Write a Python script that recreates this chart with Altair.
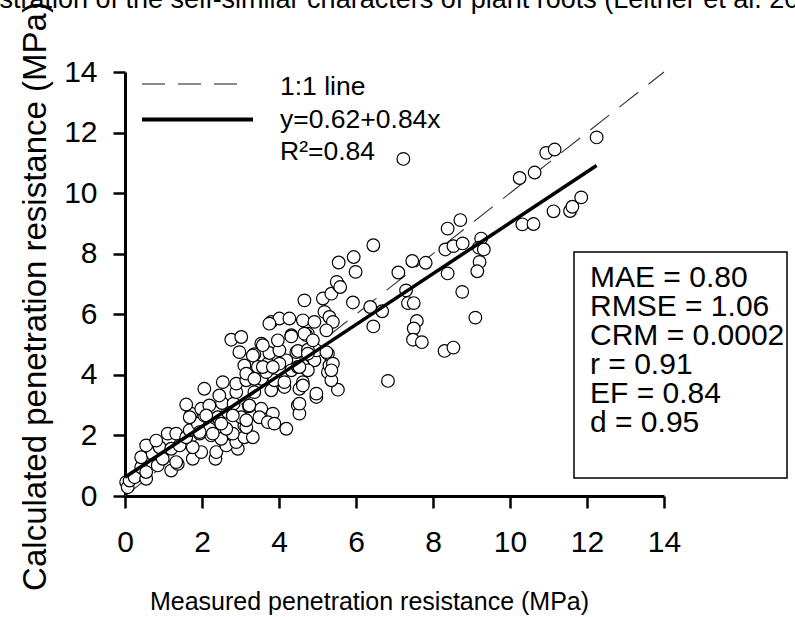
import altair as alt
import pandas as pd

# measured (x) and calculated (y) penetration resistance, MPa
meas = [0.03,0.07,0.12,0.25,0.55,0.42,0.55,0.85,1.2,1.37,0.42,0.72,0.98,1.33,1.76,1.98,2.35,2.93,
        0.55,0.9,1.2,1.42,1.76,2.37,2.63,2.89,3.1,0.81,1.11,1.33,1.59,1.94,2.24,2.5,2.8,
        1.68,1.89,2.19,2.63,3.1,1.72,2.06,2.41,2.67,3.02,3.32,1.59,1.98,2.19,2.52,2.82,3.22,
        3.32,3.15,2.28,1.68,2.11,2.5,2.8,1.94,
        3.23,3.54,3.84,4.49,4.53,3.49,3.71,3.88,4.19,3.15,2.06,2.45,2.89,3.36,3.8,
        2.54,2.89,3.15,3.54,3.88,4.14,4.53,4.97,5.53,4.53,
        3.1,3.45,3.71,4.19,4.71,5.27,5.36,3.15,3.67,4.01,4.32,4.62,4.92,5.31,
        2.97,3.36,3.75,4.01,4.45,4.97,5.27,5.4,2.76,3.02,3.54,3.97,4.32,4.75,
        3.58,4.49,4.75,3.32,3.58,3.84,3.36,4.14,4.49,4.62,4.75,
        3.8,4.01,4.27,4.62,4.92,4.32,4.71,3.75,
        4.66,5.14,5.36,5.55,5.18,5.31,5.4,4.66,4.88,5.23,4.75,5.23,5.36,4.53,4.62,4.97,
        5.5,5.59,5.55,5.94,5.99,5.92,6.37,6.68,6.45,6.45,6.83,7.1,
        7.46,7.81,7.3,7.35,7.5,7.58,7.5,7.48,7.71,8.3,8.53,8.38,8.76,9.1,
        8.38,8.71,8.32,8.53,8.77,9.25,9.19,9.32,9.21,9.15,7.23,
        10.25,10.64,10.94,11.16,12.25,10.32,10.61,11.13,11.56,11.62,11.85]
calc = [0.46,0.29,0.51,0.62,0.57,0.95,0.79,1.01,0.84,1.06,1.28,1.39,1.23,1.12,1.23,1.45,1.23,1.56,
        1.67,1.61,1.56,1.67,1.61,1.45,1.67,1.78,1.94,1.83,2.06,2.06,1.94,2.06,2.0,1.89,2.06,
        2.17,2.39,2.22,2.22,2.33,2.72,2.66,2.6,2.77,2.6,2.72,3.02,2.88,2.99,3.07,3.05,2.96,
        1.94,2.27,2.06,2.6,2.66,2.39,2.66,2.11,
        2.99,2.88,2.72,2.99,2.72,2.6,2.44,2.39,2.22,2.5,3.54,3.32,3.43,3.43,3.49,
        3.76,3.71,3.82,3.87,3.82,3.6,3.54,3.27,3.51,3.05,
        4.31,4.26,4.37,4.48,4.2,4.09,3.82,4.04,4.09,4.37,4.15,4.31,4.48,4.31,
        4.75,4.68,4.72,4.81,4.75,4.81,4.7,4.37,5.16,5.25,5.03,5.14,5.31,5.36,
        4.98,4.79,4.83,4.64,4.26,4.26,3.87,3.76,4.26,3.76,4.15,
        5.75,5.86,5.86,5.8,5.75,5.27,5.31,5.69,
        6.46,6.52,6.68,6.96,6.08,5.91,5.75,5.36,5.14,5.47,4.7,4.75,4.15,4.26,3.65,3.38,
        7.07,6.9,7.71,7.89,7.4,6.39,6.24,6.1,5.6,8.28,3.8,7.38,
        7.76,7.7,6.79,6.37,6.37,5.78,5.53,5.16,5.08,4.79,4.9,7.35,6.74,5.89,
        8.83,9.11,8.14,8.25,8.34,8.5,8.2,8.14,7.73,7.42,11.13,
        10.5,10.68,11.33,11.44,11.84,8.97,8.98,9.4,9.41,9.55,9.86]

one_x = [0, 14]
one_y = [0, 14]
reg_x = [0, 12.25]
reg_y = [0.62, 10.91]
ticks = [0, 2, 4, 6, 8, 10, 12, 14]
legend_labels = ["1:1 line", "y=0.62+0.84x", "R²=0.84"]
stats_labels = ["MAE = 0.80", "RMSE = 1.06", "CRM = 0.0002", "r = 0.91", "EF = 0.84", "d = 0.95"]
caption = "Illustration of the self-similar characters of plant roots (Leitner et al. 2010a)"

FONT = "Liberation Sans"
W, H = 539, 424

pts = pd.DataFrame({"m": meas, "c": calc})
one = pd.DataFrame({"m": one_x, "c": one_y})
reg = pd.DataFrame({"m": reg_x, "c": reg_y})

xs = alt.Scale(domain=[0, 14], nice=False, zero=False)
ys = alt.Scale(domain=[0, 14], nice=False, zero=False)

xaxis = alt.Axis(values=ticks, grid=False, domainColor="black", domainWidth=3,
                 tickColor="black", tickWidth=2.5, tickSize=12,
                 labelFont=FONT, labelFontSize=30, labelColor="black",
                 labelBaseline="alphabetic", labelPadding=43, labelFlush=False,
                 title="Measured penetration resistance (MPa)", titleFont=FONT,
                 titleFontSize=25, titleFontWeight="normal", titleColor="black",
                 titleX=244, titleY=113, titleAlign="center", titleBaseline="alphabetic")
yaxis = alt.Axis(values=ticks, grid=False, domainColor="black", domainWidth=3,
                 tickColor="black", tickWidth=2.5, tickSize=12,
                 labelFont=FONT, labelFontSize=30, labelColor="black",
                 labelPadding=16, labelBaseline="middle", labelFlush=False,
                 title="Calculated penetration resistance (MPa)", titleFont=FONT,
                 titleFontSize=33, titleFontWeight="normal", titleColor="black",
                 titleAngle=270, titleX=-90, titleY=224, titleAlign="center",
                 titleBaseline="middle")

dash = alt.Chart(one).mark_line(color="#333333", strokeWidth=1.1, strokeDash=[24, 13]).encode(
    x=alt.X("m:Q", scale=xs, axis=xaxis), y=alt.Y("c:Q", scale=ys, axis=yaxis))
points = alt.Chart(pts).mark_point(shape="circle", filled=False, fill="white", fillOpacity=1,
                                   stroke="black", strokeWidth=1.2, size=160, opacity=1).encode(
    x=alt.X("m:Q", scale=xs), y=alt.Y("c:Q", scale=ys))
regl = alt.Chart(reg).mark_line(color="black", strokeWidth=3.5).encode(
    x=alt.X("m:Q", scale=xs), y=alt.Y("c:Q", scale=ys))

one_row = pd.DataFrame({"a": [0]})
leg_dash = alt.Chart(one_row).mark_rule(color="#666666", strokeWidth=1.3, strokeDash=[23, 13]).encode(
    x=alt.value(17), x2=alt.value(115), y=alt.value(12))
leg_solid = alt.Chart(one_row).mark_rule(color="black", strokeWidth=4).encode(
    x=alt.value(17), x2=alt.value(128), y=alt.value(47.5))
leg_text = alt.Chart(one_row).mark_text(align="left", baseline="alphabetic", font=FONT,
                                        fontSize=26.5, color="black", lineHeight=32.5).encode(
    x=alt.value(155), y=alt.value(23), text=alt.value(legend_labels))

box = alt.Chart(one_row).mark_rect(fill="white", stroke="black", strokeWidth=1.5).encode(
    x=alt.value(449), x2=alt.value(662), y=alt.value(180), y2=alt.value(406))
stats = alt.Chart(one_row).mark_text(align="left", baseline="alphabetic", font=FONT,
                                     fontSize=30, color="black", lineHeight=29).encode(
    x=alt.value(465), y=alt.value(215), text=alt.value(stats_labels))

cap = alt.Chart(one_row).mark_text(align="left", baseline="alphabetic", font=FONT,
                                   fontSize=27, color="black").encode(
    x=alt.value(-160), y=alt.value(-64), text=alt.value(caption))

chart = alt.layer(dash, points, regl, leg_dash, leg_solid, leg_text, box, stats, cap).properties(
    width=W, height=H,
    autosize=alt.AutoSizeParams(type="none"),
    padding={"left": 125, "top": 72, "right": 795 - 125 - W, "bottom": 617 - 72 - H},
    background="white",
).configure_view(stroke=None)

chart.save("out.html", embed_options={"renderer": "svg", "actions": False})
